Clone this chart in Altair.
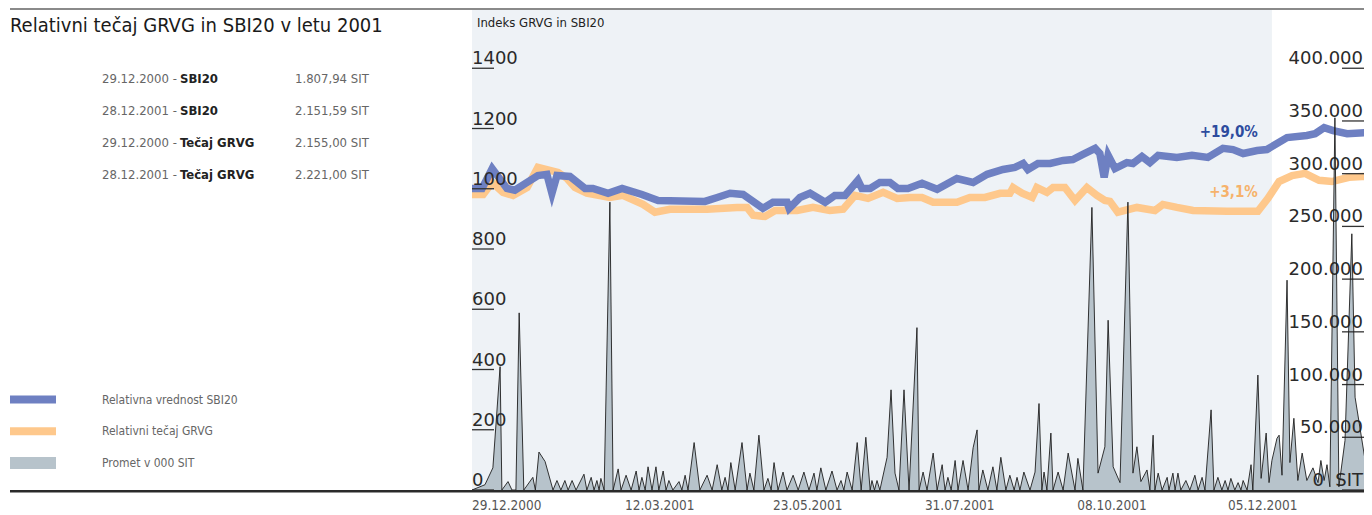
import altair as alt
import pandas as pd

# ---------------- data ----------------
title_text = "Relativni tečaj GRVG in SBI20 v letu 2001"
axis_title_text = "Indeks GRVG in SBI20"

series_names = ["Relativna vrednost SBI20", "Relativni tečaj GRVG", "Promet v 000 SIT"]
series_colors = ["#6E80C2", "#FEC88C", "#B7C3CB"]

info_dates = ["29.12.2000 -", "28.12.2001 -", "29.12.2000 -", "28.12.2001 -"]
info_names = ["SBI20", "SBI20", "Tečaj GRVG", "Tečaj GRVG"]
info_values = ["1.807,94 SIT", "2.151,59 SIT", "2.155,00 SIT", "2.221,00 SIT"]

# trading-day index (0 = 29.12.2000) and relative index values
sbi_day = [0, 2.8, 5.6, 9.7, 11.9, 15.3, 18.3, 20.8, 22.2, 23.6, 27.2, 31.4, 33.6, 37.8, 41.7,
           47.2, 51.7, 64.7, 68.1, 71.7, 75.3, 80.8, 83.6, 87.5, 88.1, 91.1, 93.9, 98.1, 100.8,
           103.6, 107.2, 108.3, 110.6, 113.3, 116.1, 118.3, 121.1, 125.0, 129.2, 134.7, 139.2,
           143.1, 147.5, 150.8, 153.1, 154.4, 157.2, 160.6, 164.2, 166.9, 169.7, 173.1, 174.4,
           175.6, 176.7, 178.6, 181.9, 183.6, 186.1, 188.3, 190.6, 195.8, 200.0, 204.4, 208.6,
           211.4, 214.2, 218.1, 220.8, 226.4, 231.9, 234.2, 236.7, 239.2, 243.1, 250]
sbi_val = [1001, 1001, 1067, 1001, 995, 1021, 1044, 1048, 985, 1044, 1041, 1001, 1001, 985, 1001,
           981, 961, 958, 971, 985, 981, 935, 955, 955, 935, 971, 985, 955, 978,
           978, 1028, 1001, 1001, 1021, 1021, 1001, 1001, 1018, 998, 1034, 1021,
           1048, 1064, 1071, 1084, 1064, 1084, 1084, 1094, 1097, 1114, 1134, 1117,
           1038, 1111, 1067, 1087, 1084, 1107, 1087, 1111, 1104, 1111, 1104, 1134,
           1130, 1117, 1127, 1130, 1170, 1177, 1183, 1203, 1193, 1183, 1187]

grvg_day = [0, 3.1, 5.6, 8.6, 11.4, 15.3, 18.3, 23.9, 26.4, 28.6, 31.9, 38.3, 41.9, 47.5, 50.8,
            55.0, 65.3, 73.6, 76.4, 78.1, 81.4, 84.2, 90.3, 94.7, 99.4, 103.1, 106.4, 110.0,
            114.2, 118.1, 121.7, 125.0, 128.1, 134.7, 138.3, 142.5, 146.7, 149.4, 150.3, 152.8,
            155.6, 156.9, 159.7, 161.4, 164.7, 167.5, 170.8, 173.6, 175.8, 177.2, 179.4, 184.7,
            189.7, 191.9, 195.8, 200.3, 209.7, 218.3, 221.1, 224.2, 227.8, 231.4, 235.3, 238.9,
            243.6, 247.2, 250]
grvg_val = [981, 981, 1021, 988, 978, 1004, 1071, 1054, 1034, 1004, 985, 971, 978, 948, 922,
            932, 932, 938, 938, 912, 908, 928, 928, 938, 928, 932, 978, 968,
            988, 968, 971, 971, 955, 955, 971, 971, 985, 985, 1004, 985,
            971, 1004, 988, 1004, 1004, 961, 1004, 978, 961, 958, 922, 938,
            928, 948, 938, 928, 925, 925, 968, 1024, 1044, 1051, 1028, 1024,
            1038, 1041, 1038]

# turnover (thousand SIT)
vol_day = [0, 3.6, 5.8, 7.8, 8.3, 10.0, 11.1, 12.2, 13.1, 14.4, 16.9, 17.6, 18.6, 20.3, 22.5,
           23.6, 24.7, 25.8, 26.7, 27.8, 28.9, 31.1, 31.9, 33.1, 33.9, 34.7, 35.3, 35.8, 36.7,
           38.3, 39.2, 40.6, 41.4, 42.8, 44.2, 45.6, 46.4, 47.2, 48.1, 48.9, 50.0, 51.1, 51.9,
           53.1, 53.9, 54.7, 55.8, 57.5, 58.3, 59.2, 60.0, 61.7, 63.3, 65.3, 66.7, 68.1, 69.4,
           70.3, 71.1, 71.9, 73.1, 75.0, 76.4, 77.2, 78.3, 79.7, 81.1, 82.2, 83.1, 83.9, 85.0,
           86.4, 87.5, 89.2, 90.6, 92.2, 93.6, 95.0, 95.8, 96.9, 98.3, 100.0, 101.4, 102.5,
           103.3, 104.2, 105.6, 107.0, 108.1, 109.4, 110.6, 111.1, 111.8, 112.5, 113.3, 115.3,
           116.4, 117.5, 118.6, 120.0, 121.4, 123.6, 124.2, 125.3, 126.4, 128.1, 129.2, 130.6,
           131.4, 132.2, 133.1, 134.2, 135.0, 136.4, 137.8, 139.2, 140.3, 140.8, 141.9, 143.3,
           144.7, 145.8, 146.9, 148.3, 149.4, 150.6, 151.4, 152.2, 153.3, 155.0, 156.4, 157.5,
           158.3, 158.9, 159.7, 160.8, 161.4, 162.8, 164.2, 165.6, 167.5, 168.3, 169.7, 172.2,
           173.9, 175.8, 176.7, 178.1, 180.0, 182.2, 183.6, 184.7, 185.8, 187.5, 188.3, 189.2,
           189.7, 190.6, 191.7, 193.1, 193.6, 194.7, 195.3, 196.1, 196.9, 198.3, 199.4, 200.8,
           201.7, 202.8, 203.6, 205.3, 206.1, 207.2, 208.3, 209.2, 210.0, 210.8, 211.9, 212.8,
           213.6, 214.2, 215.3, 216.4, 216.9, 218.3, 219.2, 220.6, 221.4, 222.2, 223.6, 224.2,
           225.0, 226.4, 227.2, 228.3, 229.4, 230.6, 231.9, 233.6, 235.0, 235.8, 236.7, 237.5,
           238.3, 239.7, 240.8, 242.5, 244.4, 245.3, 249.4, 250]
vol_val = [0, 5000, 21000, 117000, 0, 8000, 0, 0, 168000, 0, 12000, 0, 36000, 27000, 0,
           9000, 0, 9000, 0, 9000, 0, 15000, 0, 12000, 0, 9000, 0, 11000, 0,
           273000, 0, 20000, 0, 14000, 0, 18000, 0, 12000, 0, 22000, 0, 22000, 0,
           18000, 0, 9000, 0, 8000, 0, 14000, 0, 45000, 0, 14000, 0, 24000, 0,
           12000, 0, 26000, 0, 45000, 0, 16000, 0, 52000, 0, 11000, 0, 26000, 0,
           17000, 0, 14000, 0, 17000, 0, 16000, 0, 21000, 0, 18000, 0, 9000,
           0, 17000, 0, 45000, 0, 50000, 0, 9000, 0, 9000, 0, 31000,
           95000, 16000, 0, 95000, 0, 154000, 0, 17000, 0, 35000, 0, 24000,
           0, 12000, 0, 28000, 0, 28000, 0, 40000, 57000, 0, 19000, 0,
           22000, 0, 31000, 0, 14000, 0, 12000, 0, 17000, 0, 17000, 82000,
           0, 17000, 0, 54000, 0, 17000, 0, 35000, 0, 30000, 0, 268000,
           16000, 41000, 161000, 22000, 7000, 273000, 16000, 41000, 8000, 19000, 0, 52000,
           0, 16000, 0, 12000, 0, 16000, 0, 16000, 0, 9000, 0, 14000,
           0, 12000, 0, 76000, 0, 12000, 0, 9000, 0, 11000, 0, 7000,
           0, 9000, 0, 24000, 0, 109000, 11000, 54000, 7000, 28000, 49000, 52000,
           14000, 199000, 26000, 68000, 9000, 35000, 9000, 21000, 7000, 28000, 9000, 24000,
           3000, 353000, 3000, 47000, 243000, 88000, 0, 0]

shade_from = [0]
shade_to = [222.2]

xtick_days = [0, 42.5, 83.6, 125.8, 168.1, 210]
xtick_labels = ["29.12.2000", "12.03.2001", "23.05.2001", "31.07.2001", "08.10.2001", "05.12.2001"]
left_ticks = [0, 200, 400, 600, 800, 1000, 1200, 1400]
left_labels = ["0", "200", "400", "600", "800", "1000", "1200", "1400"]
right_ticks = [0, 50000, 100000, 150000, 200000, 250000, 300000, 350000, 400000]
right_labels = ["0\u00a0\u00a0SIT", "50.000", "100.000", "150.000", "200.000", "250.000",
                "300.000", "350.000", "400.000"]

ann_text = ["+19,0%", "+3,1%"]
ann_day = [218.3, 218.3]
ann_val = [1190, 988]
ann_colors = ["#2D4C9E", "#F6B26B"]

# ---------------- layout ----------------
W, H = 1356, 506            # page is 1372 wide with 8px margins
COND = "'DejaVu Sans Condensed', 'Liberation Sans Narrow', Roboto, sans-serif"
NUMF = "DejaVu Sans"
X0, X1 = 464, 1356          # pixel extent of the time axis
DAY_MAX = (X1 - X0) / 3.6   # 3.6 px per trading day
Y0 = 482                    # pixel row of the zero line

x_scale = alt.Scale(domain=[0, DAY_MAX], range=[X0, X1], nice=False, zero=False)
idx_scale = alt.Scale(domain=[0, 1600], range=[Y0, 0], nice=False, zero=False)
vol_scale = alt.Scale(domain=[0, 457143], range=[Y0, 0], nice=False, zero=False)
color_scale = alt.Scale(domain=series_names, range=series_colors)


def X(field):
    return alt.X(field, scale=x_scale, axis=None)


def YI(field):
    return alt.Y(field, scale=idx_scale, axis=None)


def YV(field):
    return alt.Y(field, scale=vol_scale, axis=None)


# ---------------- frames ----------------
df_shade = pd.DataFrame({"start": shade_from, "end": shade_to, "lo": [0], "hi": [1600]})
df_sbi = pd.DataFrame({"day": sbi_day, "val": sbi_val, "series": series_names[0]})
df_grvg = pd.DataFrame({"day": grvg_day, "val": grvg_val, "series": series_names[1]})
df_vol = pd.DataFrame({"day": vol_day, "val": vol_val})
df_info = pd.DataFrame({"date": info_dates, "name": info_names, "value": info_values,
                        "row": list(range(len(info_dates)))})
df_leg = pd.DataFrame({"name": series_names, "row": list(range(len(series_names)))})
df_lt = pd.DataFrame({"v": left_ticks, "lab": left_labels})
df_rt = pd.DataFrame({"v": right_ticks, "lab": right_labels})
df_xt = pd.DataFrame({"d": xtick_days, "lab": xtick_labels})
one = pd.DataFrame({"k": [0]})

# ---------------- index layer ----------------
bg = alt.Chart(df_shade).mark_rect(color="#EEF2F6").encode(
    x=X("start:Q"), x2="end:Q", y=YI("lo:Q"), y2="hi:Q")


def line(df):
    return alt.Chart(df).mark_line(strokeWidth=7.5, strokeJoin="miter", strokeCap="butt").encode(
        x=X("day:Q"), y=YI("val:Q"),
        color=alt.Color("series:N", scale=color_scale, legend=None))


ann_layers = []
for t, d, v, c in zip(ann_text, ann_day, ann_val, ann_colors):
    ann_layers.append(
        alt.Chart(pd.DataFrame({"t": [t], "day": [d], "val": [v]})).mark_text(
            align="right", baseline="middle", font=COND, fontSize=15, fontWeight="bold", color=c
        ).encode(x=X("day:Q"), y=YI("val:Q"), text="t:N"))

idx_layer = alt.layer(bg, line(df_grvg), line(df_sbi), *ann_layers)

# ---------------- volume layer (with right-hand scale) ----------------
area = alt.Chart(df_vol).mark_area(color="#B7C3CB", opacity=1, interpolate="linear").encode(
    x=X("day:Q"), y=YV("val:Q"))
right_ticks_m = alt.Chart(df_rt).mark_rule(color="#333333", strokeWidth=1.3).encode(
    y=YV("v:Q"), x=alt.value(X1 - 22), x2=alt.value(X1))
right_labels_m = alt.Chart(df_rt).mark_text(align="right", baseline="alphabetic", dy=-4,
                                            font=NUMF, fontSize=18, color="#2a2a2a").encode(
    y=YV("v:Q"), x=alt.value(X1 - 1), text="lab:N")
outline = alt.Chart(df_vol).mark_line(color="#1e1e1e", strokeWidth=0.9, interpolate="linear").encode(
    x=X("day:Q"), y=YV("val:Q"))
vol_layer = alt.layer(area, right_ticks_m, right_labels_m, outline)

# ---------------- left-hand scale (drawn on top) ----------------
left_ticks_m = alt.Chart(df_lt).mark_rule(color="#333333", strokeWidth=1.3).encode(
    y=YI("v:Q"), x=alt.value(X0), x2=alt.value(X0 + 22))
left_labels_m = alt.Chart(df_lt).mark_text(align="left", baseline="alphabetic", dy=-4,
                                           font=NUMF, fontSize=18, color="#2a2a2a").encode(
    y=YI("v:Q"), x=alt.value(X0), text="lab:N")
left_layer = alt.layer(left_ticks_m, left_labels_m)

# ---------------- time labels ----------------
x_labels_m = alt.Chart(df_xt).mark_text(align="left", baseline="top", font=COND, fontSize=13.5,
                                        color="#555555").encode(
    x=X("d:Q"), y=alt.value(Y0 + 9), text="lab:N")

# ---------------- info block ----------------
info_y = alt.Y("row:Q", scale=alt.Scale(domain=[0, 3], range=[75, 171], nice=False, zero=False), axis=None)
info_dates_m = alt.Chart(df_info).mark_text(align="left", baseline="alphabetic", font=COND,
                                            fontSize=13, color="#666666").encode(
    x=alt.value(94), y=info_y, text="date:N")
info_names_m = alt.Chart(df_info).mark_text(align="left", baseline="alphabetic", font=COND,
                                            fontSize=13, fontWeight="bold", color="#222222").encode(
    x=alt.value(172), y=info_y, text="name:N")
info_vals_m = alt.Chart(df_info).mark_text(align="left", baseline="alphabetic", font=COND,
                                           fontSize=13, color="#666666").encode(
    x=alt.value(287), y=info_y, text="value:N")
info_layer = alt.layer(info_dates_m, info_names_m, info_vals_m)

# ---------------- legend ----------------
leg_y = alt.Y("row:Q", scale=alt.Scale(domain=[0, 2], range=[391.5, 455], nice=False, zero=False), axis=None)
leg_lines = alt.Chart(df_leg).transform_filter("datum.row < 2").mark_rule(strokeWidth=8).encode(
    x=alt.value(2), x2=alt.value(48), y=leg_y,
    color=alt.Color("name:N", scale=color_scale, legend=None))
leg_area = alt.Chart(df_leg).transform_filter("datum.row == 2").mark_rule(strokeWidth=12).encode(
    x=alt.value(2), x2=alt.value(48), y=leg_y,
    color=alt.Color("name:N", scale=color_scale, legend=None))
leg_text = alt.Chart(df_leg).mark_text(align="left", baseline="middle", font=COND, fontSize=12,
                                       color="#666666").encode(
    x=alt.value(94), y=leg_y, text="name:N")
legend_layer = alt.layer(leg_lines, leg_area, leg_text)

# ---------------- titles and rules ----------------
title_m = alt.Chart(pd.DataFrame({"t": [title_text]})).mark_text(
    align="left", baseline="alphabetic", font=COND, fontSize=20, color="#1a1a1a").encode(
    x=alt.value(2), y=alt.value(24), text="t:N")
axis_title_m = alt.Chart(pd.DataFrame({"t": [axis_title_text]})).mark_text(
    align="left", baseline="alphabetic", font=COND, fontSize=13, color="#222222").encode(
    x=alt.value(469), y=alt.value(18.5), text="t:N")
top_rule = alt.Chart(one).mark_rule(color="#8a8a8a", strokeWidth=2).encode(
    x=alt.value(2), x2=alt.value(W), y=alt.value(1))
bottom_rule = alt.Chart(one).mark_rule(color="#2a2a2a", strokeWidth=2.5).encode(
    x=alt.value(2), x2=alt.value(W), y=alt.value(Y0 + 1.2))

chart = alt.layer(
    idx_layer, vol_layer, left_layer, x_labels_m, info_layer, legend_layer, title_m,
    axis_title_m, top_rule, bottom_rule
).resolve_scale(y="independent").properties(
    width=W, height=H, padding=0, autosize="none"
).configure_view(stroke=None)

chart.save("out.html", embed_options={"renderer": "svg", "actions": False})
